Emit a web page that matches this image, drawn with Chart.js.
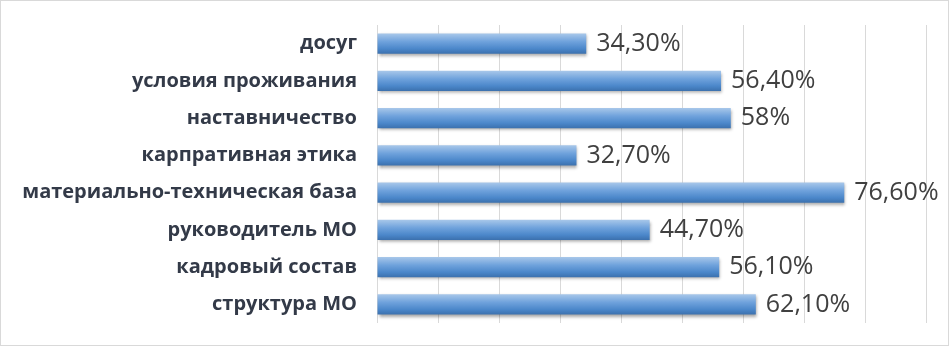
<!DOCTYPE html>
<html>
<head>
<meta charset="utf-8">
<script src="https://cdn.jsdelivr.net/npm/chart.js@4"></script>
<style>
  html, body { margin: 0; padding: 0; background: #fff; }
  #wrap { width: 949px; height: 346px; box-sizing: border-box; border: 1px solid #d9d9d9; background: #fff; }
  canvas { display: block; }
</style>
</head>
<body>
<div id="wrap"><canvas id="chart" width="947" height="344"></canvas></div>
<script>
const categories = [
  "досуг",
  "условия проживания",
  "наставничество",
  "карпративная этика",
  "материально-техническая база",
  "руководитель МО",
  "кадровый состав",
  "структура МО",
];
const values = [34.3, 56.4, 58, 32.7, 76.6, 44.7, 56.1, 62.1];
const valueLabels = ["34,30%", "56,40%", "58%", "32,70%", "76,60%", "44,70%", "56,10%", "62,10%"];
const axisMin = 0;
const axisMax = 90;
const axisStep = 10;

const BAR_PCT = 0.55;

// vertical shading for each bar, built from the y scale position
function barGradient(context) {
  const chart = context.chart;
  const area = chart.chartArea;
  if (!area || !chart.scales.y) return "#5b9bd5";
  const y = chart.scales.y.getPixelForValue(context.dataIndex);
  const h = ((area.bottom - area.top) / categories.length) * BAR_PCT;
  const g = chart.ctx.createLinearGradient(0, y - h / 2, 0, y + h / 2);
  g.addColorStop(0, "#a9c8ea");
  g.addColorStop(0.4, "#6fa2dc");
  g.addColorStop(0.75, "#4b87ca");
  g.addColorStop(1, "#3b70ad");
  return g;
}

const barStyle = {
  id: "barStyle",
  beforeDatasetsDraw(chart) {
    const ctx = chart.ctx;
    ctx.save();
    ctx.shadowColor = "rgba(0,0,0,0.35)";
    ctx.shadowBlur = 3;
    ctx.shadowOffsetX = 1;
    ctx.shadowOffsetY = 2;
  },
  afterDatasetsDraw(chart) {
    const ctx = chart.ctx;
    ctx.restore();
    ctx.save();
    ctx.font = '25px "Open Sans"';
    ctx.fillStyle = "#404040";
    ctx.textAlign = "left";
    ctx.textBaseline = "middle";
    chart.getDatasetMeta(0).data.forEach((bar, i) => {
      ctx.fillText(valueLabels[i], bar.x + 10, bar.y);
    });
    ctx.restore();
  },
};

new Chart(document.getElementById("chart"), {
  type: "bar",
  data: {
    labels: categories,
    datasets: [
      {
        data: values,
        backgroundColor: barGradient,
        barPercentage: BAR_PCT,
        categoryPercentage: 1,
      },
    ],
  },
  options: {
    indexAxis: "y",
    responsive: false,
    animation: false,
    layout: { padding: { left: 0, right: 22, top: 24, bottom: 22 } },
    plugins: {
      legend: { display: false },
      tooltip: { enabled: false },
    },
    scales: {
      x: {
        min: axisMin,
        max: axisMax,
        ticks: { display: false, stepSize: axisStep },
        grid: { color: "#d9d9d9", drawTicks: false },
        border: { display: false },
        afterFit(scale) {
          scale.height = 0;
          scale.paddingLeft = 0;
          scale.paddingRight = 0;
        },
      },
      y: {
        ticks: {
          padding: 20,
          color: "#333a48",
          font: { family: "Open Sans", size: 20, weight: "bold" },
        },
        grid: { display: false, drawTicks: false },
        border: { display: false },
        afterFit(scale) {
          scale.width = 376;
          scale.paddingTop = 0;
          scale.paddingBottom = 0;
        },
      },
    },
  },
  plugins: [barStyle],
});
</script>
</body>
</html>
